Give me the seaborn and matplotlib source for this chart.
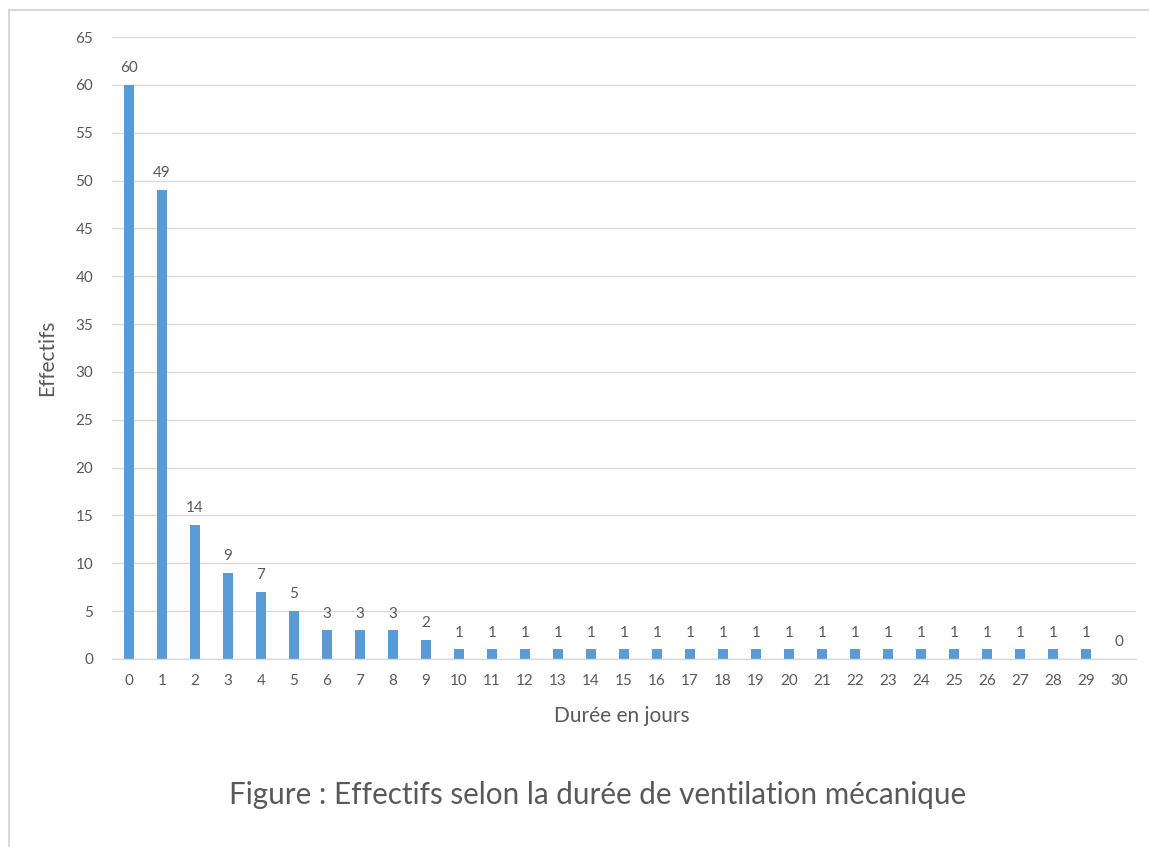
import matplotlib
matplotlib.use("Agg")
import matplotlib.pyplot as plt
from matplotlib.lines import Line2D
import seaborn as sns
import pandas as pd

days = [str(d) for d in range(31)]
counts = [60, 49, 14, 9, 7, 5, 3, 3, 3, 2, 1, 1, 1, 1, 1, 1, 1, 1, 1, 1,
          1, 1, 1, 1, 1, 1, 1, 1, 1, 1, 0]
y_ticks = list(range(0, 70, 5))
title = "Figure : Effectifs selon la durée de ventilation mécanique"
xlabel = "Durée en jours"
ylabel = "Effectifs"

sns.set_theme(style="white")
plt.rcParams["font.family"] = ["Lato", "DejaVu Sans"]

TXT = "#595959"
BAR = "#5B9BD5"
GRID = "#D9D9D9"

df = pd.DataFrame({"day": days, "count": counts})

fig = plt.figure(figsize=(11.49, 8.47), dpi=100)
ax = fig.add_axes([0.0979, 0.2220, 0.8904, 0.7343])

sns.barplot(data=df, x="day", y="count", color=BAR, width=0.3, ax=ax,
            saturation=1, order=days, linewidth=0)

ax.set_ylim(0, 65)
ax.set_xlim(-0.5, len(days) - 0.5)
ax.set_yticks(y_ticks)
ax.yaxis.grid(True, color=GRID, linewidth=1)
ax.set_axisbelow(True)
for s in ["top", "right", "left"]:
    ax.spines[s].set_visible(False)
ax.spines["bottom"].set_color(GRID)
ax.spines["bottom"].set_linewidth(1)
ax.tick_params(axis="both", length=0, labelsize=11, labelcolor=TXT)
ax.tick_params(axis="x", pad=11)
ax.tick_params(axis="y", pad=14)

for i, v in enumerate(counts):
    ax.annotate(str(v), (i, v), xytext=(0, 7), textcoords="offset points",
                ha="center", va="bottom", fontsize=11, color=TXT)

ax.set_xlabel("")
ax.set_ylabel("")
fig.text(622 / 1149, 1 - 716 / 847, xlabel, ha="center", va="center",
         fontsize=15, color=TXT)
fig.text(47 / 1149, 1 - 358 / 847, ylabel, ha="center", va="center",
         fontsize=15, color=TXT, rotation=90)
fig.text(598 / 1149, 1 - 795 / 847, title, ha="center", va="center",
         fontsize=21.3, color=TXT)

# outer frame (top and left edges visible)
x0, y0 = 8.5 / 1149, 1 - 10.5 / 847
fig.add_artist(Line2D([x0, 1.0], [y0, y0], transform=fig.transFigure,
                      color="#D9D9D9", linewidth=1.5))
fig.add_artist(Line2D([x0, x0], [0.0, y0], transform=fig.transFigure,
                      color="#D9D9D9", linewidth=1.5))

fig.savefig("out.png", dpi=100, facecolor="white")
